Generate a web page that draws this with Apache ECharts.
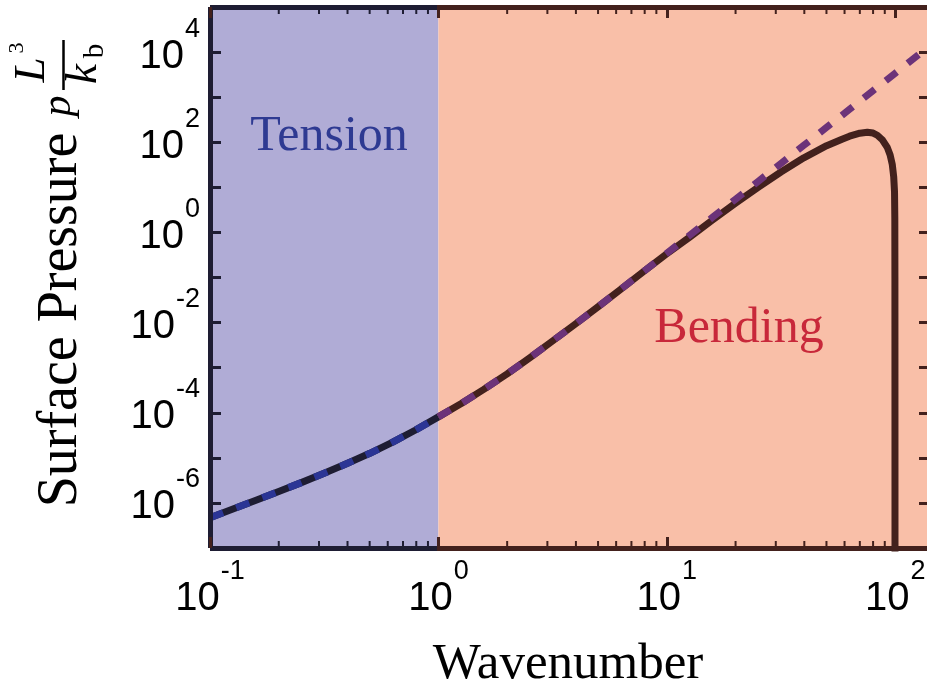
<!DOCTYPE html>
<html>
<head>
<meta charset="utf-8">
<title>Surface Pressure vs Wavenumber</title>
<script src="https://cdn.jsdelivr.net/npm/echarts@6/dist/echarts.min.js"></script>
<style>
    html,body{margin:0;padding:0;background:#fff;}
    #demo{width:927px;height:688px;}
</style>
</head>
<body>
<div id="demo"></div>
<script>
// values (wavenumber q, pressure p L^3/k_b)
var qAsymptote = [0.1, 0.126, 0.158, 0.2, 0.251, 0.316, 0.398, 0.501, 0.631, 0.794, 1,
    1.26, 1.58, 2, 2.51, 3.16, 3.98, 5.01, 6.31, 7.94, 10,
    12.6, 15.8, 20, 25.1, 31.6, 39.8, 50.1, 63.1, 79.4, 100, 126, 142];
var pAsymptote = [4.7e-7, 7.3e-7, 1.13e-6, 1.8e-6, 2.82e-6, 4.53e-6, 7.47e-6, 1.26e-5, 2.24e-5, 4.14e-5, 8.1e-5,
    1.6e-4, 3.3e-4, 7.3e-4, 1.65e-3, 3.9e-3, 9.3e-3, 0.0226, 0.0558, 0.138, 0.345,
    0.864, 2.13, 5.46, 13.5, 33.9, 85.3, 214, 539, 1351, 3400, 8570, 13800];

var qExact = [0.1, 0.126, 0.158, 0.2, 0.251, 0.316, 0.398, 0.501, 0.631, 0.794, 1,
    1.26, 1.58, 2, 2.51, 3.16, 3.98, 5.01, 6.31, 7.94, 10,
    12.6, 15.8, 20, 25.1, 31.6, 39.8, 50.1, 58.5, 63.1, 70, 75.5, 80, 83.5, 88, 92.3,
    95, 97.1, 98.5, 99.3, 99.6, 99.7, 99.75, 99.8];
var pExact = [4.7e-7, 7.3e-7, 1.13e-6, 1.8e-6, 2.82e-6, 4.53e-6, 7.47e-6, 1.26e-5, 2.24e-5, 4.14e-5, 8.1e-5,
    1.6e-4, 3.3e-4, 7.3e-4, 1.65e-3, 3.9e-3, 9.3e-3, 0.0226, 0.0558, 0.138, 0.335,
    0.786, 1.86, 4.46, 10.0, 21.9, 45.1, 84, 117, 136, 159, 166, 160, 143, 112, 77,
    52, 32, 17, 8, 2, 0.1, 1e-4, 1e-9];

var minorTickQ = [0.2, 0.3, 0.4, 0.5, 0.6, 0.7, 0.8, 0.9,
    2, 3, 4, 5, 6, 7, 8, 9,
    20, 30, 40, 50, 60, 70, 80, 90];

var xRange = [0.1, 142];
var yRange = [1e-7, 1e5];
var regionEdges = [0.1, 1, 142];
var regionNames = ['Tension', 'Bending'];

var colors = {
    tensionBg : '#b0acd6',
    bendingBg : '#f9bfa8',
    navy : '#1e1d33',
    brown : '#43211d',
    blue : '#2b3595',
    purple : '#6c3379',
    tensionText : '#2e3a92',
    bendingText : '#c8283a'
};

var ChartUtil = {
    renderChart : function(selector, options){
        var dom = document.getElementById(selector);
        var myChart = echarts.init(dom, null, {renderer : 'canvas'});
        if (options && typeof options === "object") {
            myChart.setOption(options, true);
        }
        return myChart;
    },
    pairs : function(qs, ps, lo, hi){
        var out = [];
        for (var i = 0; i < qs.length; i++) {
            if (qs[i] >= lo && qs[i] <= hi) out.push([qs[i], ps[i]]);
        }
        return out;
    },
    // "10^n" as rich text, empty for in-between ticks
    powLabel : function(v, evenOnly){
        var lg = Math.log10(v), e = Math.round(lg);
        if (Math.abs(lg - e) > 1e-6) return '';
        if (evenOnly && e % 2 !== 0) return '';
        return '{b|10}{e|' + e + '}';
    }
};

var labelRich = {
    b : {fontFamily : 'Liberation Sans', fontSize : 40, color : '#000', padding : [9, 0, 0, 0]},
    e : {fontFamily : 'Liberation Sans', fontSize : 27, color : '#000', padding : [0, 0, 46, 1]}
};

var app = {
    init : function(){
        this.chart = ChartUtil.renderChart("demo", this.buildOptions());
    },
    buildOptions : function(){
        var lgMin = Math.log10(xRange[0]), lgMax = Math.log10(xRange[1]);
        var split = (Math.log10(regionEdges[1]) - lgMin) / (lgMax - lgMin);
        var frameGradient = new echarts.graphic.LinearGradient(0, 0, 1, 0, [
            {offset : 0, color : colors.navy},
            {offset : split, color : colors.navy},
            {offset : split, color : colors.brown},
            {offset : 1, color : colors.brown}
        ]);

        var xAxisBase = function(pos){
            return {
                type : 'log',
                min : xRange[0],
                max : xRange[1],
                interval : 1,
                position : pos,
                z : 3,
                axisLine : {lineStyle : {color : frameGradient, width : 5, cap : 'butt'}},
                axisTick : {inside : true, length : 11, lineStyle : {color : colors.brown, width : 3}},
                axisLabel : {
                    show : pos === 'bottom',
                    margin : 10,
                    formatter : function(v){ return ChartUtil.powLabel(v, false); },
                    rich : labelRich
                },
                splitLine : {show : false}
            };
        };
        var yAxisBase = function(pos, color){
            return {
                type : 'log',
                min : yRange[0],
                max : yRange[1],
                interval : 1,
                position : pos,
                z : 3,
                axisLine : {lineStyle : {color : color, width : 5, cap : 'butt'}},
                axisTick : {inside : true, length : 11, lineStyle : {color : color, width : 3}},
                axisLabel : {
                    show : pos === 'left',
                    margin : 10,
                    formatter : function(v){ return ChartUtil.powLabel(v, true); },
                    rich : labelRich
                },
                splitLine : {show : false}
            };
        };

        var lineSeries = function(name, data, color, dashed, z){
            return {
                name : name,
                type : 'line',
                data : data,
                symbol : 'none',
                smooth : false,
                z : z,
                lineStyle : {
                    color : color,
                    width : 7,
                    type : dashed ? [14, 14] : 'solid',
                    cap : 'butt',
                    join : 'round'
                }
            };
        };

        var exactTension = lineSeries('exactTension', ChartUtil.pairs(qExact, pExact, regionEdges[0], regionEdges[1]), colors.navy, false, 2);
        exactTension.markArea = {
            silent : true,
            z : 1,
            data : [
                [{xAxis : regionEdges[0], itemStyle : {color : colors.tensionBg}}, {xAxis : regionEdges[1]}],
                [{xAxis : regionEdges[1], itemStyle : {color : colors.bendingBg}}, {xAxis : regionEdges[2]}]
            ]
        };

        var serif = 'Liberation Serif';
        var rot = Math.PI / 2;
        var txt = function(x, y, text, size, fill, extra){
            var el = {
                type : 'text', x : x, y : y, silent : true, z : 10,
                style : {text : text, fontSize : size, fontFamily : serif, fill : fill, align : 'center', verticalAlign : 'middle'}
            };
            if (extra) {
                if (extra.rotation) el.rotation = extra.rotation;
                if (extra.italic) el.style.fontStyle = 'italic';
            }
            return el;
        };

        return {
            animation : false,
            backgroundColor : '#fff',
            grid : {left : 210, top : 7, width : 720, height : 541, containLabel : false, outerBoundsMode : 'none'},
            xAxis : [xAxisBase('bottom'), xAxisBase('top')],
            yAxis : [yAxisBase('left', colors.navy), yAxisBase('right', colors.brown)],
            series : [
                exactTension,
                lineSeries('exactBending', ChartUtil.pairs(qExact, pExact, regionEdges[1], regionEdges[2]), colors.brown, false, 2),
                lineSeries('asymTension', ChartUtil.pairs(qAsymptote, pAsymptote, regionEdges[0], regionEdges[1]), colors.blue, true, 2),
                lineSeries('asymBending', ChartUtil.pairs(qAsymptote, pAsymptote, regionEdges[1], regionEdges[2]), colors.purple, true, 2),
                {
                    name : 'minorTicks',
                    type : 'custom',
                    silent : true,
                    z : 4,
                    clip : false,
                    data : minorTickQ.map(function(q){ return [q, yRange[0]]; }),
                    encode : {x : 0, y : 1},
                    renderItem : function(params, api){
                        var q = api.value(0);
                        var bottom = api.coord([q, yRange[0]]);
                        var top = api.coord([q, yRange[1]]);
                        var c = q < regionEdges[1] ? colors.navy : colors.brown;
                        return {
                            type : 'group',
                            children : [
                                {type : 'line', shape : {x1 : bottom[0], y1 : bottom[1], x2 : bottom[0], y2 : bottom[1] - 7}, style : {stroke : c, lineWidth : 2}},
                                {type : 'line', shape : {x1 : top[0], y1 : top[1], x2 : top[0], y2 : top[1] + 7}, style : {stroke : c, lineWidth : 2}}
                            ]
                        };
                    }
                }
            ],
            graphic : [
                txt(329, 137, regionNames[0], 50, colors.tensionText),
                txt(739, 329, regionNames[1], 50, colors.bendingText),
                txt(568, 665, 'Wavenumber', 51, '#000'),
                // rotated y title: Surface Pressure  p L^3 / k_b
                txt(61, 320, 'Surface Pressure', 56, '#000', {rotation : rot}),
                txt(59, 106, 'p', 42, '#000', {rotation : rot, italic : true}),
                txt(32, 70, 'L', 45, '#000', {rotation : rot, italic : true}),
                txt(17, 48, '3', 22, '#000', {rotation : rot}),
                {
                    type : 'line', silent : true, z : 10,
                    shape : {x1 : 63.5, y1 : 40, x2 : 63.5, y2 : 90},
                    style : {stroke : '#000', lineWidth : 2.5}
                },
                txt(84, 74, 'k', 45, '#000', {rotation : rot, italic : true}),
                txt(95, 51, 'b', 29, '#000', {rotation : rot})
            ]
        };
    }
};

app.init();
</script>
</body>
</html>
